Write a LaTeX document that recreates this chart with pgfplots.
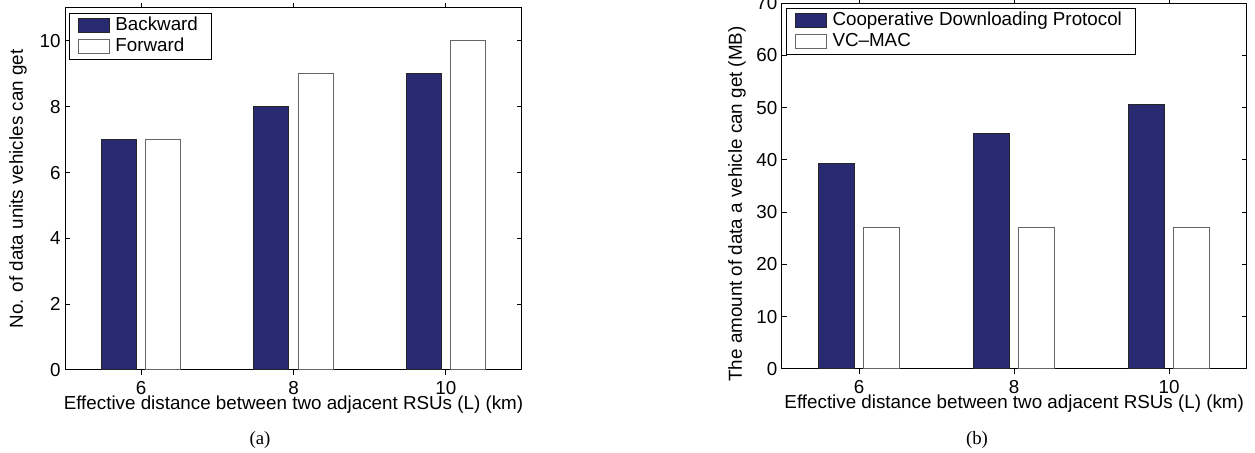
\documentclass[border=0pt]{standalone}
\usepackage{fontspec}
\setmainfont{Liberation Sans}
\newfontfamily\capfont{Liberation Serif}
\usepackage{pgfplots}
\pgfplotsset{compat=1.18}
\definecolor{barblue}{RGB}{42,42,114}
\pgfplotsset{
  matlabaxis/.style={
    scale only axis,
    anchor=south west,
    clip=false,
    axis line style={line width=0.5pt},
    every tick/.style={black,line width=0.5pt},
    tick align=inside,
    major tick length=2.5pt,
    xtick pos=both, ytick pos=both,
    xmin=5, xmax=11,
    xtick={6,8,10},
    /pgf/number format/assume math mode=true,
    yticklabel style={anchor=east,inner sep=0pt,xshift=-2pt},
    xticklabel style={anchor=north,inner sep=0pt,yshift=-3.0pt},
    xlabel style={at={(axis description cs:0.5,0)},anchor=north,inner sep=0pt,yshift=-12.5pt},
    ybar, bar width=0.46,
    legend cell align=left,
    legend style={anchor=north west, draw=black, line width=0.5pt,
      inner xsep=4.2pt, inner ysep=0.9pt, row sep=0pt,
      nodes={inner xsep=2.75pt, inner ysep=0.95pt, text height=6.8pt, text depth=1.8pt}},
  },
  barleg/.style={legend image code/.code={\draw[##1,line width=0.5pt] (0pt,-3.5pt) rectangle (15.5pt,3.5pt);}},
  bluebar/.style={fill=barblue, draw=black!85, line width=0.5pt, bar shift=-0.29, barleg},
  whitebar/.style={fill=white, draw=black!60, line width=0.5pt, bar shift=0.29, barleg},
}
\begin{document}
\begin{tikzpicture}[font=\fontsize{9.4pt}{11pt}\selectfont]
\path[use as bounding box] (0pt,0pt) rectangle (627.5pt,226.5pt);
\begin{axis}[matlabaxis,
  at={(32.5pt,41.5pt)}, width=228.5pt, height=181pt,
  ymin=0, ymax=11, ytick={0,2,4,6,8,10},
  xlabel={Effective distance between two adjacent RSUs (L) (km)},
  legend style={at={(axis description cs:0,1)},xshift=2pt,yshift=-2.5pt},
]
\addplot[bluebar] coordinates {(6,7) (8,8) (10,9)};
\addplot[whitebar] coordinates {(6,7) (8,9) (10,10)};
\legend{Backward,Forward}
\node[rotate=90,anchor=center] at (axis description cs:-0.1028,0.5) {No. of data units vehicles can get};
\node[font=\capfont\fontsize{9.4pt}{11pt}\selectfont] at (axis description cs:0.4267,-0.1934) {(a)};
\end{axis}
\begin{axis}[matlabaxis,
  at={(390.85pt,42pt)}, width=232.5pt, height=183pt,
  ymin=0, ymax=70, ytick={0,10,20,30,40,50,60,70},
  xlabel={Effective distance between two adjacent RSUs (L) (km)},
  legend style={at={(axis description cs:0,1)},xshift=2.2pt,yshift=-2.5pt},
]
\addplot[bluebar] coordinates {(6,39.3) (8,45.0) (10,50.6)};
\addplot[whitebar] coordinates {(6,27) (8,27) (10,27)};
\legend{Cooperative Downloading Protocol,VC--MAC}
\node[rotate=90,anchor=center] at (axis description cs:-0.0959,0.451) {The amount of data a vehicle can get (MB)};
\node[font=\capfont\fontsize{9.4pt}{11pt}\selectfont] at (axis description cs:0.42,-0.194) {(b)};
\end{axis}
\end{tikzpicture}
\end{document}
